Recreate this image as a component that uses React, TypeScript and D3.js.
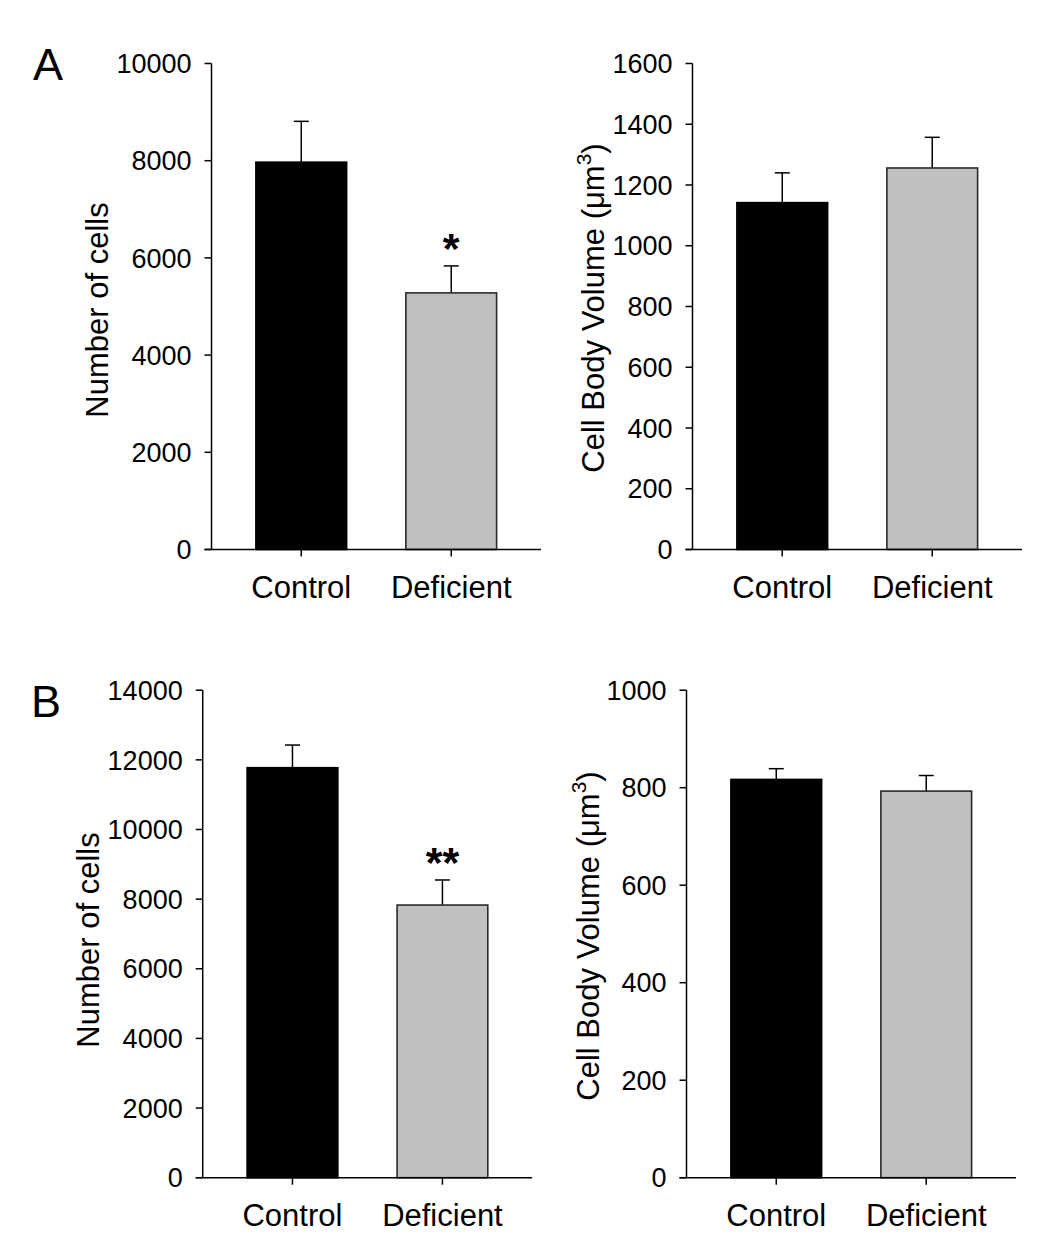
import React from "react";
import * as d3 from "d3";

const categories = ["Control", "Deficient"];

const cellsA = [7970, 5280];
const cellsAErr = [840, 555];
const volumeA = [1142, 1256];
const volumeAErr = [98, 101];

const cellsB = [11775, 7830];
const cellsBErr = [650, 720];
const volumeB = [817, 793];
const volumeBErr = [22, 32];

const ticksCellsA = [0, 2000, 4000, 6000, 8000, 10000];
const ticksVolumeA = [0, 200, 400, 600, 800, 1000, 1200, 1400, 1600];
const ticksCellsB = [0, 2000, 4000, 6000, 8000, 10000, 12000, 14000];
const ticksVolumeB = [0, 200, 400, 600, 800, 1000];

const sigA = ["", "*"];
const sigB = ["", "**"];

const FONT = "'Liberation Sans', Arial, Helvetica, sans-serif";
const fills = ["#000000", "#c0c0c0"];
const outlines = ["#000000", "#2a2a2a"];

type PanelProps = {
  ax: number;
  yTop: number;
  yBottom: number;
  values: number[];
  errors: number[];
  ticks: number[];
  sig?: string[];
  titleX: number;
  titleY: number;
  volume?: boolean;
};

function Panel({ ax, yTop, yBottom, values, errors, ticks, sig, titleX, titleY, volume }: PanelProps) {
  const right = ax + 329.5;
  const x = d3.scaleBand<string>().domain(categories).range([ax, right]).paddingInner(0.395).paddingOuter(0.296);
  const y = d3.scaleLinear().domain([0, ticks[ticks.length - 1]]).range([yBottom, yTop]);
  const bw = x.bandwidth();
  const cap = 7.5;
  return (
    <g>
      {categories.map((c, i) => {
        const x0 = x(c)!;
        const cx = x0 + bw / 2;
        const top = y(values[i]);
        const et = y(values[i] + errors[i]);
        return (
          <g key={c}>
            <line x1={cx} x2={cx} y1={top} y2={et} stroke="#000" strokeWidth={1.5} />
            <line x1={cx - cap} x2={cx + cap} y1={et} y2={et} stroke="#000" strokeWidth={1.5} />
            <rect x={x0} y={top} width={bw} height={yBottom - top} fill={fills[i]} stroke={outlines[i]} strokeWidth={1.6} />
            {sig && sig[i] ? (
              <text x={cx} y={et - 3} textAnchor="middle" fontFamily={FONT} fontWeight="bold" fontSize={43} fill="#000">
                {sig[i]}
              </text>
            ) : null}
            <line x1={cx} x2={cx} y1={yBottom} y2={yBottom + 7} stroke="#000" strokeWidth={1.5} />
            <text x={cx} y={yBottom + 48.5} textAnchor="middle" fontFamily={FONT} fontSize={31} fill="#000">
              {c}
            </text>
          </g>
        );
      })}
      <line x1={ax} x2={ax} y1={yTop} y2={yBottom} stroke="#000" strokeWidth={1.5} />
      <line x1={ax - 7} x2={right} y1={yBottom} y2={yBottom} stroke="#000" strokeWidth={1.5} />
      {ticks.map((t) => (
        <g key={t}>
          <line x1={ax - 7} x2={ax} y1={y(t)} y2={y(t)} stroke="#000" strokeWidth={1.5} />
          <text x={ax - 20} y={y(t)} dy="0.36em" textAnchor="end" fontFamily={FONT} fontSize={27} fill="#000">
            {t}
          </text>
        </g>
      ))}
      <text
        transform={`translate(${titleX},${titleY}) rotate(-90)`}
        textAnchor="middle"
        fontFamily={FONT}
        fontSize={31}
        fill="#000"
      >
        {volume ? (
          <>
            <tspan>Cell Body Volume (μm</tspan>
            <tspan fontSize={21} dy={-13}>3</tspan>
            <tspan dy={13}>)</tspan>
          </>
        ) : (
          "Number of cells"
        )}
      </text>
    </g>
  );
}

export default function App() {
  return (
    <svg
      width={1050}
      height={1249}
      viewBox="0 0 1050 1249"
      style={{ position: "absolute", left: 0, top: 0, background: "#fff" }}
    >
      <rect x={0} y={0} width={1050} height={1249} fill="#fff" />
      <text x={33} y={80} fontFamily={FONT} fontSize={45} fill="#000">A</text>
      <text x={31} y={717} fontFamily={FONT} fontSize={45} fill="#000">B</text>
      <Panel ax={211.5} yTop={63.5} yBottom={549.5} values={cellsA} errors={cellsAErr} ticks={ticksCellsA} sig={sigA} titleX={108} titleY={310} />
      <Panel ax={692.5} yTop={63.5} yBottom={549.5} values={volumeA} errors={volumeAErr} ticks={ticksVolumeA} titleX={604} titleY={308} volume />
      <Panel ax={202.7} yTop={690.2} yBottom={1177.7} values={cellsB} errors={cellsBErr} ticks={ticksCellsB} sig={sigB} titleX={99} titleY={940} />
      <Panel ax={686.5} yTop={690.2} yBottom={1177.7} values={volumeB} errors={volumeBErr} ticks={ticksVolumeB} titleX={599} titleY={936} volume />
    </svg>
  );
}
